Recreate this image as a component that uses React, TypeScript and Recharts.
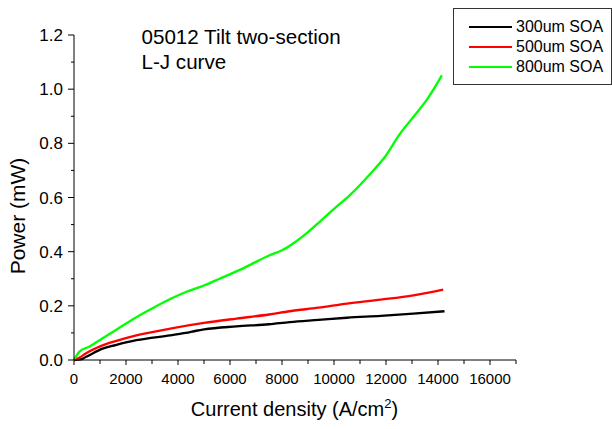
import { LineChart, Line, XAxis, YAxis } from "recharts";

// values
const j300 = [0, 250, 450, 1100, 1600, 2400, 3700, 4300, 4700, 5000, 6250, 7500, 8300, 9400, 10500, 11800, 13050, 14250];
const p300 = [0, 0.002, 0.011, 0.042, 0.055, 0.073, 0.091, 0.1, 0.108, 0.113, 0.124, 0.132, 0.14, 0.148, 0.156, 0.163, 0.171, 0.18];

const j500 = [0, 200, 450, 1100, 1600, 2400, 3700, 5000, 6250, 7500, 8300, 9400, 10500, 11800, 13050, 14200];
const p500 = [0, 0.008, 0.024, 0.054, 0.07, 0.091, 0.116, 0.137, 0.153, 0.168, 0.18, 0.193, 0.208, 0.223, 0.239, 0.26];

const j800 = [0, 200, 600, 1100, 1600, 2400, 3000, 3700, 4300, 5000, 5600, 6600, 7500, 8000, 8500, 9000, 9500, 10000, 10600, 11400, 12000, 12500, 13050, 13600, 14150];
const p800 = [0, 0.03, 0.05, 0.08, 0.11, 0.158, 0.19, 0.225, 0.251, 0.275, 0.3, 0.343, 0.386, 0.405, 0.435, 0.472, 0.515, 0.558, 0.608, 0.688, 0.755, 0.83, 0.897, 0.965, 1.051];

const seriesNames = ["300um SOA", "500um SOA", "800um SOA"];
const seriesColors = ["#000000", "#ff0000", "#00ff00"];

const xTicks = [0, 1000, 2000, 3000, 4000, 5000, 6000, 7000, 8000, 9000, 10000, 11000, 12000, 13000, 14000, 15000, 16000, 17000];
const yTicks = [0, 0.1, 0.2, 0.3, 0.4, 0.5, 0.6, 0.7, 0.8, 0.9, 1.0, 1.1, 1.2];

const zip = (js: number[], ps: number[]) => js.map((j, i) => ({ j, p: ps[i] }));
const series = [zip(j300, p300), zip(j500, p500), zip(j800, p800)];

const FONT = "'Liberation Sans', Arial, sans-serif";

function XTick({ x, y, payload }: any) {
  const v = payload.value;
  const major = v % 2000 === 0 && v !== 17000;
  return (
    <g>
      <line x1={x} x2={x} y1={y} y2={y + (major ? 5 : 4)} stroke="#000" />
      {major && (
        <text x={x} y={y + 23.5} textAnchor="middle" fontSize={15} fontFamily={FONT} fill="#000">
          {v}
        </text>
      )}
    </g>
  );
}

function YTick({ x, y, payload }: any) {
  const v = payload.value;
  const major = Math.round(v * 10) % 2 === 0;
  return (
    <g>
      <line x1={x} x2={x - (major ? 6 : 3)} y1={y} y2={y} stroke="#000" />
      {major && (
        <text x={x - 11} y={y + 6} textAnchor="end" fontSize={17} fontFamily={FONT} fill="#000">
          {v.toFixed(1)}
        </text>
      )}
    </g>
  );
}

export default function App() {
  return (
    <div style={{ position: "absolute", left: 0, top: 0, width: 612, height: 429, background: "#fff", fontFamily: FONT }}>
      <LineChart width={612} height={429} margin={{ top: 35, right: 96, left: 0, bottom: 0 }}>
        <XAxis
          type="number"
          dataKey="j"
          domain={[0, 17000]}
          ticks={xTicks}
          interval={0}
          tickSize={0}
          tickMargin={0}
          tick={<XTick />}
          axisLine={{ stroke: "#000" }}
          height={69}
          allowDuplicatedCategory={false}
        />
        <YAxis
          type="number"
          domain={[0, 1.2]}
          ticks={yTicks}
          interval={0}
          tickSize={0}
          tickMargin={0}
          tick={<YTick />}
          axisLine={{ stroke: "#000" }}
          width={74}
        />
        {series.map((d, i) => (
          <Line
            key={seriesNames[i]}
            data={d}
            dataKey="p"
            name={seriesNames[i]}
            type="monotone"
            stroke={seriesColors[i]}
            strokeWidth={2.3}
            dot={false}
            isAnimationActive={false}
          />
        ))}
      </LineChart>

      <div style={{ position: "absolute", left: 141.5, top: 24, fontSize: 20.6, lineHeight: "25px", color: "#000" }}>
        05012 Tilt two-section
        <br />
        L-J curve
      </div>

      <div
        style={{
          position: "absolute",
          left: 294.5,
          top: 398,
          transform: "translateX(-50%)",
          fontSize: 20,
          lineHeight: "22px",
          whiteSpace: "nowrap",
          color: "#000",
        }}
      >
        Current density (A/cm<sup style={{ fontSize: 13, lineHeight: 0 }}>2</sup>)
      </div>

      <div
        style={{
          position: "absolute",
          left: 18,
          top: 216,
          transform: "translate(-50%, -50%) rotate(-90deg)",
          fontSize: 21,
          lineHeight: "22px",
          whiteSpace: "nowrap",
          color: "#000",
        }}
      >
        Power (mW)
      </div>

      <div
        style={{
          position: "absolute",
          left: 453,
          top: 8,
          width: 157,
          height: 75,
          border: "1px solid #333",
          boxSizing: "content-box",
        }}
      >
        {seriesNames.map((n, i) => (
          <div key={n} style={{ position: "absolute", left: 15, top: 8 + i * 20, height: 20, display: "flex", alignItems: "center" }}>
            <div style={{ width: 43, height: 2, background: seriesColors[i] }} />
            <span style={{ marginLeft: 4, fontSize: 16, color: "#000" }}>{n}</span>
          </div>
        ))}
      </div>
    </div>
  );
}
